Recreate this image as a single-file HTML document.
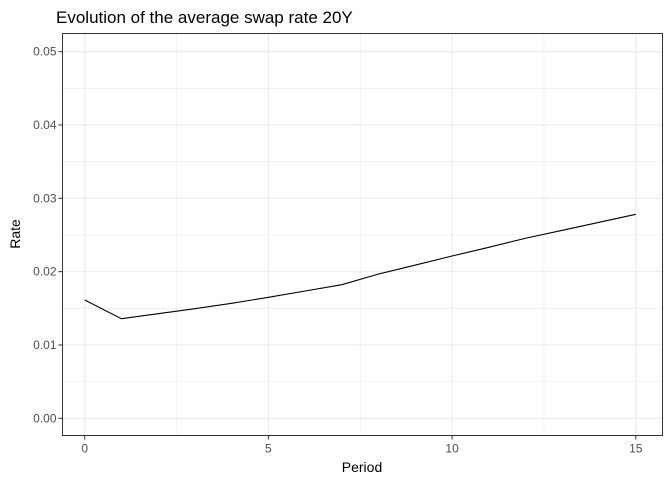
<!DOCTYPE html>
<html><head><meta charset="utf-8"><style>
body{margin:0;background:#fff;}
svg text{font-family:"Liberation Sans",Arial,sans-serif;}
</style></head><body>
<svg id="chart" width="672" height="480" xmlns="http://www.w3.org/2000/svg">
<rect width="672" height="480" fill="#fff"/>
<text x="56" y="23" font-size="17" fill="#000">Evolution of the average swap rate 20Y</text>
<g id="grid"></g>
<g id="line"></g>
<rect x="62.5" y="33.5" width="600" height="402" fill="none" stroke="#333" stroke-width="1"/>
<g id="axes"></g>
<text x="362" y="472" font-size="14" text-anchor="middle" fill="#000">Period</text>
<text transform="translate(20,234) rotate(-90)" font-size="14" text-anchor="middle" fill="#000">Rate</text>
</svg>
<script>
const periods=[0,1,2,3,4,5,6,7,8,9,10,11,12,13,14,15];
const rates=[0.01613,0.01358,0.01426,0.01495,0.01568,0.0165,0.01736,0.01822,0.01968,0.0209,0.02213,0.02332,0.02455,0.02564,0.02673,0.02782];
const xTicks=[0,5,10,15];
const yTicks=[0,0.01,0.02,0.03,0.04,0.05];
const yTickLabels=["0.00","0.01","0.02","0.03","0.04","0.05"];
const NS="http://www.w3.org/2000/svg";
const X=v=>84.7+v*36.74;
const Y=v=>418.3-v*7333;
const L=62.5,R=662.5,T=33.5,B=435.5;
const grid=document.getElementById('grid'),axes=document.getElementById('axes'),line=document.getElementById('line');
function mk(t,a,p){const e=document.createElementNS(NS,t);for(const k in a)e.setAttribute(k,a[k]);p.appendChild(e);return e;}
// minor grid
for(let v=2.5;v<15;v+=5){const g=mk('line',{x1:X(v),x2:X(v),y1:T,y2:B,stroke:'#ebebeb','stroke-width':0.6},grid);

}
for(let v=0.005;v<0.052;v+=0.01){const g=mk('line',{x1:L,x2:R,y1:Y(v),y2:Y(v),stroke:'#ebebeb','stroke-width':0.6},grid);

}
xTicks.forEach(v=>{const g=mk('line',{x1:X(v),x2:X(v),y1:T,y2:B,stroke:'#ebebeb','stroke-width':1.1},grid);


const t=mk('line',{x1:X(v),x2:X(v),y1:B,y2:B+4,stroke:'#333'},axes);


const l=mk('text',{x:X(v),y:B+17,'font-size':12,'text-anchor':'middle',fill:'#4d4d4d'},axes);l.textContent=v;

});
yTicks.forEach((v,i)=>{const g=mk('line',{x1:L,x2:R,y1:Y(v),y2:Y(v),stroke:'#ebebeb','stroke-width':1.1},grid);


const t=mk('line',{x1:L-4,x2:L,y1:Y(v),y2:Y(v),stroke:'#333'},axes);


const l=mk('text',{x:L-6,y:Y(v)+4,'font-size':12,'text-anchor':'end',fill:'#4d4d4d'},axes);l.textContent=yTickLabels[i];

});
const p=mk('polyline',{points:periods.map((d,i)=>X(d)+','+Y(rates[i])).join(' '),fill:'none',stroke:'#000','stroke-width':1.1},line);


</script>
</body></html>
